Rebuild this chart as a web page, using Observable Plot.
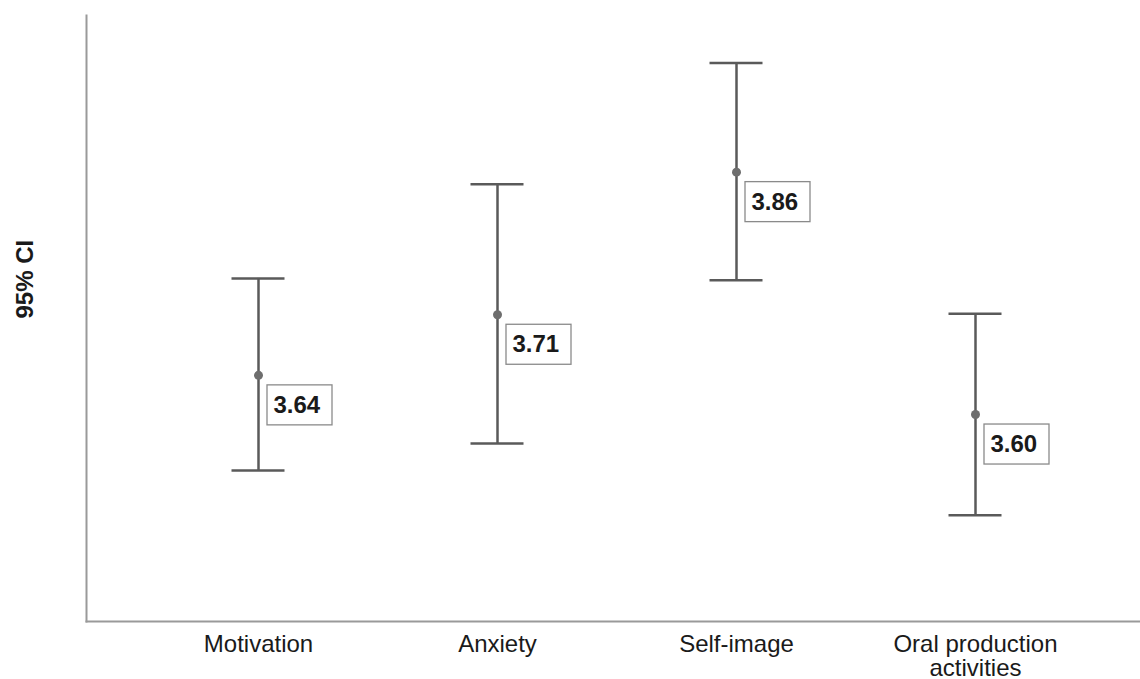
<!DOCTYPE html>
<html>
<head>
<meta charset="utf-8">
<script src="https://cdn.jsdelivr.net/npm/d3@7"></script>
<script src="https://cdn.jsdelivr.net/npm/@observablehq/plot@0.6"></script>
<style>
  html, body { margin: 0; padding: 0; background: #ffffff; overflow: hidden; }
  #chart svg { display: block; }
</style>
</head>
<body>
<div id="chart"></div>
<script>
const categories = ["Motivation", "Anxiety", "Self-image", "Oral production\nactivities"];
const means = [3.642, 3.707, 3.860, 3.600];
const meanLabels = ["3.64", "3.71", "3.86", "3.60"];
const lower = [3.540, 3.569, 3.744, 3.492];
const upper = [3.746, 3.847, 3.977, 3.708];
const yLabel = "95% CI";

const data = categories.map((c, i) => ({
  name: c, mean: means[i], label: meanLabels[i], lo: lower[i], hi: upper[i]
}));

const lineColor = "#5a5a5a";
const fontFamily = "'Liberation Sans', Arial, Helvetica, sans-serif";

const chart = Plot.plot({
  width: 1140,
  height: 679,
  marginLeft: 86,
  marginRight: 0,
  marginTop: 15,
  marginBottom: 58,
  style: { fontFamily, fontSize: "24px", background: "#ffffff", color: "#1a1a1a" },
  x: { type: "point", domain: categories, padding: 0, insetLeft: 172, insetRight: 165, label: null },
  y: { domain: [3.378, 4.028], axis: null },
  marks: [
    Plot.frame({ anchor: "left", stroke: "#9a9a9a", strokeWidth: 2 }),
    Plot.frame({ anchor: "bottom", stroke: "#9a9a9a", strokeWidth: 2 }),
    Plot.axisX({ tickSize: 0, tickPadding: 13, fontSize: 24, lineHeight: 1.02, label: null, fill: "#1a1a1a" }),
    Plot.text([yLabel], { frameAnchor: "left", rotate: -90, dx: -61, fontSize: 24, fontWeight: "bold", fill: "#1a1a1a" }),
    // vertical CI lines
    Plot.ruleX(data, { x: "name", y1: "lo", y2: "hi", stroke: lineColor, strokeWidth: 2.5 }),
    // caps
    Plot.ruleY(data, { x1: "name", x2: "name", y: "hi", insetLeft: -26.5, insetRight: -26.5, stroke: lineColor, strokeWidth: 2.5 }),
    Plot.ruleY(data, { x1: "name", x2: "name", y: "lo", insetLeft: -26.5, insetRight: -26.5, stroke: lineColor, strokeWidth: 2.5 }),
    // mean points
    Plot.dot(data, { x: "name", y: "mean", r: 4.5, fill: "#6e6e6e", stroke: "none" }),
    // label boxes
    Plot.rect(data, { x1: "name", x2: "name", y1: "mean", y2: "mean",
      insetLeft: 9, insetRight: -74, insetTop: 10, insetBottom: -50,
      fill: "#ffffff", stroke: "#8a8a8a", strokeWidth: 1.3 }),
    Plot.text(data, { x: "name", y: "mean", text: "label", textAnchor: "start", lineAnchor: "middle",
      dx: 15, dy: 30, fontSize: 24, fontWeight: "bold", fill: "#1a1a1a" })
  ]
});

document.getElementById("chart").appendChild(chart);
</script>
</body>
</html>
